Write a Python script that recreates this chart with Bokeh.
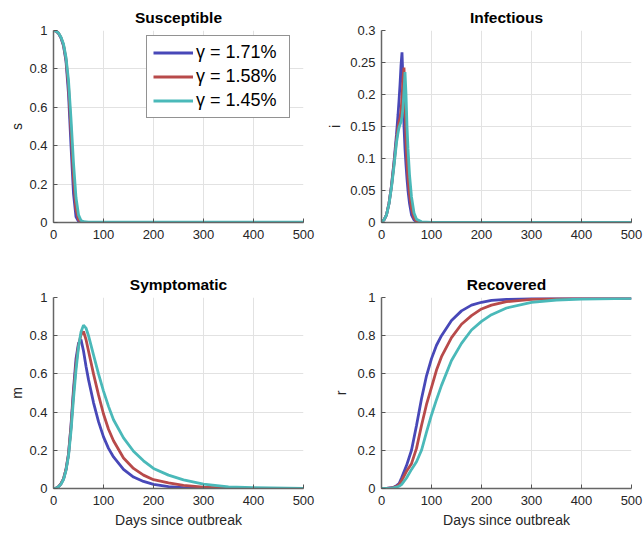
from bokeh.plotting import figure
from bokeh.layouts import column, row
from bokeh.models import Range1d, FixedTicker, CustomJSTickFormatter, Legend, LegendItem
from bokeh.embed import file_html
from bokeh.resources import INLINE

# ---------------- data ----------------
labels = ["γ = 1.71%", "γ = 1.58%", "γ = 1.45%"]
colors = ["#4848b8", "#b84a4a", "#4ab9b9"]

days_s = [0, 5, 10, 15, 20, 25, 30, 35, 40, 45, 50, 55, 60, 70, 100, 200, 300, 400, 500]
s_blue = [1.0, 0.997, 0.985, 0.96, 0.92, 0.84, 0.67, 0.40, 0.15, 0.03, 0.006, 0.002, 0.001, 0.001, 0.001, 0.001, 0.001, 0.001, 0.001]
s_red  = [1.0, 0.997, 0.986, 0.963, 0.925, 0.85, 0.71, 0.48, 0.23, 0.07, 0.015, 0.004, 0.002, 0.001, 0.001, 0.001, 0.001, 0.001, 0.001]
s_teal = [1.0, 0.997, 0.987, 0.965, 0.93, 0.86, 0.74, 0.54, 0.31, 0.13, 0.04, 0.01, 0.004, 0.002, 0.002, 0.002, 0.002, 0.002, 0.002]

days_i = [0, 5, 10, 15, 20, 25, 30, 33, 35, 37, 39, 41, 43, 45, 47, 49, 51, 53, 56, 60, 65, 70, 80, 100, 500]
i_blue = [0.001, 0.004, 0.012, 0.03, 0.058, 0.095, 0.138, 0.168, 0.19, 0.215, 0.245, 0.266, 0.22, 0.15, 0.115, 0.09, 0.068, 0.05, 0.03, 0.012, 0.004, 0.001, 0.0, 0.0, 0.0]
i_red  = [0.001, 0.004, 0.012, 0.03, 0.057, 0.092, 0.13, 0.148, 0.157, 0.163, 0.175, 0.195, 0.225, 0.242, 0.19, 0.13, 0.095, 0.07, 0.045, 0.022, 0.007, 0.002, 0.0, 0.0, 0.0]
i_teal = [0.001, 0.004, 0.012, 0.029, 0.055, 0.088, 0.125, 0.14, 0.148, 0.153, 0.157, 0.165, 0.18, 0.205, 0.235, 0.2, 0.15, 0.115, 0.075, 0.04, 0.015, 0.005, 0.001, 0.0, 0.0]

days_m = [0, 5, 10, 15, 20, 25, 30, 35, 40, 45, 50, 55, 60, 65, 70, 80, 90, 100, 110, 120, 140, 160, 180, 200, 230, 260, 300, 350, 400, 500]
m_blue = [0.0, 0.002, 0.01, 0.025, 0.05, 0.1, 0.18, 0.33, 0.52, 0.68, 0.76, 0.78, 0.72, 0.64, 0.57, 0.45, 0.35, 0.27, 0.21, 0.165, 0.1, 0.06, 0.037, 0.022, 0.01, 0.005, 0.002, 0.001, 0.0, 0.0]
m_red  = [0.0, 0.002, 0.01, 0.025, 0.05, 0.1, 0.18, 0.32, 0.5, 0.65, 0.75, 0.805, 0.822, 0.78, 0.72, 0.6, 0.49, 0.39, 0.31, 0.25, 0.16, 0.105, 0.07, 0.046, 0.03, 0.016, 0.007, 0.002, 0.001, 0.0]
m_teal = [0.0, 0.002, 0.009, 0.023, 0.047, 0.095, 0.17, 0.3, 0.47, 0.62, 0.74, 0.82, 0.855, 0.84, 0.8, 0.7, 0.6, 0.51, 0.43, 0.36, 0.265, 0.195, 0.145, 0.105, 0.07, 0.045, 0.023, 0.009, 0.004, 0.001]

days_r = [0, 10, 20, 25, 30, 35, 40, 50, 60, 70, 80, 90, 100, 110, 120, 140, 160, 180, 200, 220, 250, 300, 350, 400, 500]
r_blue = [0.0, 0.001, 0.004, 0.008, 0.015, 0.025, 0.055, 0.12, 0.2, 0.33, 0.47, 0.59, 0.68, 0.75, 0.8, 0.88, 0.93, 0.96, 0.975, 0.985, 0.99, 0.995, 0.996, 0.997, 0.997]
r_red  = [0.0, 0.001, 0.003, 0.006, 0.011, 0.02, 0.04, 0.09, 0.13, 0.21, 0.33, 0.44, 0.53, 0.62, 0.69, 0.79, 0.86, 0.905, 0.94, 0.96, 0.978, 0.99, 0.994, 0.996, 0.997]
r_teal = [0.0, 0.0005, 0.002, 0.004, 0.007, 0.012, 0.02, 0.055, 0.1, 0.14, 0.2, 0.295, 0.385, 0.465, 0.54, 0.67, 0.76, 0.83, 0.875, 0.91, 0.945, 0.975, 0.987, 0.992, 0.995]

x_ticks = [0, 100, 200, 300, 400, 500]
y_ticks_unit = [0, 0.2, 0.4, 0.6, 0.8, 1]
y_ticks_inf = [0, 0.05, 0.1, 0.15, 0.2, 0.25, 0.3]

FONT = "Liberation Sans"
TXT = "#262626"

fmt_code = "return String(Math.round(tick*1000)/1000);"


def make_fig(title, ylabel, yend, yticks, days, series, left, right, top, bottom, fw, fh,
             ylab_standoff, xlabel=None):
    p = figure(frame_width=fw, frame_height=fh,
               x_range=Range1d(0, 500), y_range=Range1d(0, yend),
               output_backend="svg", toolbar_location=None,
               min_border_left=left, min_border_right=right,
               min_border_top=top, min_border_bottom=bottom,
               title=title)
    p.title.text_font = FONT
    p.title.text_font_size = "15.5px"
    p.title.text_font_style = "bold"
    p.title.text_color = "#000000"
    p.title.align = "center"
    p.title.standoff = 9
    p.outline_line_color = None
    p.background_fill_color = "white"
    p.border_fill_color = "white"

    p.xaxis.ticker = FixedTicker(ticks=x_ticks)
    p.yaxis.ticker = FixedTicker(ticks=yticks)
    for ax in (p.xaxis[0], p.yaxis[0]):
        ax.formatter = CustomJSTickFormatter(code=fmt_code)
        ax.major_tick_in = 4
        ax.major_tick_out = 0
        ax.minor_tick_line_color = None
        ax.major_tick_line_color = "#555555"
        ax.axis_line_color = "#666666"
        ax.axis_line_width = 1.5
        ax.major_label_text_font = FONT
        ax.major_label_text_font_size = "13px"
        ax.major_label_text_color = TXT
        ax.axis_label_text_font = FONT
        ax.axis_label_text_font_size = "14px"
        ax.axis_label_text_font_style = "normal"
        ax.axis_label_text_color = TXT
    p.xaxis.major_label_standoff = 7
    p.yaxis.major_label_standoff = 6
    p.yaxis.axis_label = ylabel
    p.yaxis.axis_label_standoff = ylab_standoff
    if xlabel:
        p.xaxis.axis_label = xlabel
        p.xaxis.axis_label_standoff = 4
    p.grid.grid_line_color = "#e2e2e2"
    p.grid.grid_line_width = 1

    rends = []
    for ys, c in zip(series, colors):
        rends.append(p.line(days, ys, line_color=c, line_width=2.8))
    return p, rends


p1, r1 = make_fig("Susceptible", "s", 1, y_ticks_unit, days_s, [s_blue, s_red, s_teal],
                  53, 12, 30, 30, 250, 192, 1)
p2, _ = make_fig("Infectious", "i", 0.3, y_ticks_inf, days_i, [i_blue, i_red, i_teal],
                 66, 13, 30, 30, 250, 192, 4)
p3, _ = make_fig("Symptomatic", "m", 1, y_ticks_unit, days_m, [m_blue, m_red, m_teal],
                 53, 12, 45, 47, 250, 191, 1, xlabel="Days since outbreak")
p4, _ = make_fig("Recovered", "r", 1, y_ticks_unit, days_r, [r_blue, r_red, r_teal],
                 66, 13, 45, 47, 250, 191, 5, xlabel="Days since outbreak")

legend = Legend(items=[LegendItem(label=l, renderers=[r]) for l, r in zip(labels, r1)],
                location=(93, 104))
legend.border_line_color = "#262626"
legend.border_line_width = 1
legend.background_fill_color = "white"
legend.background_fill_alpha = 1
legend.padding = 6
legend.spacing = 3
legend.margin = 0
legend.glyph_width = 40
legend.glyph_height = 19
legend.label_height = 19
legend.label_width = 87
legend.label_standoff = 3
legend.label_text_font = FONT
legend.label_text_font_size = "18px"
legend.label_text_color = "#000000"
p1.add_layout(legend)

layout = column(row(p1, p2), row(p3, p4))

with open("out.html", "w") as f:
    f.write(file_html(layout, INLINE))
